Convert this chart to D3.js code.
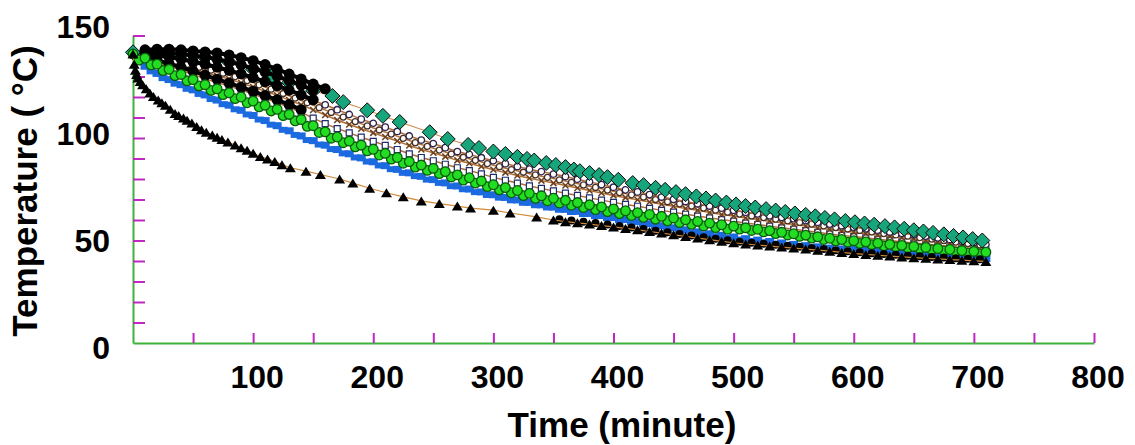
<!DOCTYPE html>
<html><head><meta charset="utf-8">
<script src="https://cdn.jsdelivr.net/npm/d3@7"></script>
<style>html,body{margin:0;padding:0;background:#fff;}svg{display:block;}</style>
</head><body>
<svg id="c" width="1135" height="445"></svg>
<script>
// ---------------- data ----------------
const gridTimes = [0,10,20,30,40,50,60,70,80,90,100,110,120,130,140,150,160,170,180,190,200,210,220,230,240,250,260,270,280,290,300,310,320,330,340,350,360,370,380,390,400,410,420,430,440,450,460,470,480,490,500,510,520,530,540,550,560,570,580,590,600,610,620,630,640,650,660,670,680,690,700,710];
const halfTimes = [5,15,25,35,45,55,65,75,85,95,105,115,125,135,145,155,165,175,185,195,205,215,225,235,245,255,265,275,285,295,305,315,325,335,345,355,365,375,385,395,405,415,425,435,445,455,465,475,485,495,505,515,525,535,545,555,565,575,585,595,605,615,625,635,645,655,665,675,685,695,705];

const greenTemps = [141,139,136,133.5,131,128.5,126,124,122,120,118,116,114,111.5,109,106,103,100.5,98.5,96.5,94.5,92.5,90.5,88.5,86.8,85.2,83.6,82,80.6,79,77.2,75.8,74.4,73,71.8,70.6,69.6,68.5,67.4,66.4,65.4,64.5,63.6,62.7,61.8,61,60.1,59.3,58.5,57.7,57,56.2,55.5,54.8,54,53.3,52.6,51.8,51.1,50.5,49.9,49.3,48.7,48.1,47.6,47.1,46.6,46.1,45.6,45.1,44.7,44.3];
const green2Temps = [138,135.7,132.9,130.4,127.9,125.4,123.2,121.2,119.2,117.2,115.2,113.2,110.9,108.4,105.7,102.7,99.9,97.7,95.7,93.7,91.7,89.7,87.7,85.8,84.2,82.6,81,79.5,78,76.3,74.7,73.3,71.9,70.6,69.4,68.3,67.2,66.1,65.1,64.1,63.1,62.2,61.3,60.4,59.6,58.7,57.9,57.1,56.3,55.5,55.6,54.9,54.2,53.4,52.7,52,51.2,50.5,49.8,49.2,48.6,48,47.4,46.9,46.4,45.9,45.4,44.9,44.4,43.9,43.5];

const blueTemps = [141,135,131.5,128.5,126,123.5,121,118.5,116,113.5,111,108.5,106,103.5,101,98.7,96.5,94.4,92.3,90.3,88.4,86.5,84.7,83,81.3,79.7,78.1,76.6,75.1,73.7,72.3,71,69.8,68.6,67.4,66.3,65.2,64.2,63.2,62.2,61.2,60.2,59.2,58.2,57.2,56.2,55.2,54.2,53.3,52.5,51.7,50.9,50.2,49.5,48.8,48.1,47.5,46.9,46.3,45.9,45.6,45.1,44.6,44.1,43.7,43.3,42.9,42.5,42.1,41.8,41.5,41.2];
const blue2Temps = [137.2,132.5,129.2,126.5,124,121.5,119,116.5,114,111.5,109,106.5,104,101.5,99,96.8,94.6,92.5,90.5,88.5,86.6,84.8,83,81.4,79.7,78.1,76.5,75,73.6,72.2,70.9,69.6,68.4,67.2,66.1,65,63.9,62.9,61.9,60.9,59.9,58.9,57.9,56.9,55.9,54.9,53.9,53,52.1,51.3,50.5,49.8,49.1,48.4,47.7,47,46.4,45.8,45.3,45,44.6,44.1,43.6,43.1,42.7,42.3,41.9,41.5,41.2,40.9,40.6];

const midUpperTemps = [141.4,140.8,139.6,138.8,137.8,136.8,135.6,134.3,132.8,131,129,126.9,124.8,122.7,120.5,118.2,116.2,113.8,111.5,109.2,107.2,105.3,103.2,101,99,97.3,95.3,93.4,92,90.4,88.9,87.5,86.1,84.8,83.6,82.4,81.2,79.9,78.6,77.3,76,74.7,73.7,72.4,71.2,70.1,69,67.9,66.8,65.8,64.8,63.8,63,62.1,61.3,60.6,59.7,58.9,58,57.2,56.5,55.7,55,54.2,53.5,52.8,52.1,51.3,50.5,49.7,49,48.1];
const midTemps = [141.2,140.1,138.3,136.8,135.3,133.7,132,130.4,128.8,126.9,124.9,122.8,120.8,118.5,116.2,113.7,111.2,108.8,106.6,104.5,102.5,100.5,98.5,96.3,94.4,92.8,90.9,89.1,87.7,86.1,84.5,83.1,81.7,80.4,79.2,78,76.8,75.6,74.4,73.2,72,70.9,69.9,68.8,67.7,66.7,65.6,64.7,63.7,62.7,61.9,61,60.2,59.4,58.6,57.8,57.1,56.2,55.4,54.7,54,53.3,52.6,51.9,51.3,50.7,50,49.3,48.7,48,47.4,46.7];
const midLowerTemps = [141.1,139.6,137.1,135.1,133.1,131,128.9,127.1,125.3,123.4,121.4,119.3,117.3,114.9,112.5,109.7,107,104.6,102.5,100.4,98.4,96.4,94.4,92.3,90.5,88.9,87.2,85.5,84.1,82.5,80.8,79.4,78,76.6,75.4,74.2,73.1,72,70.8,69.7,68.6,67.6,66.7,65.7,64.7,63.8,62.8,61.9,61,60.2,59.4,58.5,57.8,57,56.2,55.5,54.8,54,53.2,52.5,51.9,51.3,50.6,50,49.4,48.8,48.3,47.7,47.1,46.5,46,45.5];
const midHalfTemps = [140.9,139.7,138.4,137.2,135.9,134.5,133.1,131.6,129.9,128,125.9,123.8,121.7,119.5,117.2,114.8,112.5,110.2,108,105.9,103.9,101.9,99.8,97.7,95.9,94.1,92.2,90.6,89.1,87.5,86,84.6,83.3,82,80.8,79.6,78.4,77.1,75.9,74.6,73.4,72.3,71.2,70,68.9,67.9,66.8,65.8,64.8,63.8,62.9,62,61.2,60.4,59.6,58.8,58,57.1,56.3,55.6,54.9,54.2,53.4,52.7,52.1,51.4,50.7,50,49.2,48.5,47.8];

const blackTimes = [10,20,30,40,50,60,70,80,90,100,110,120,130,140,150,160];
const blackTopTemps = [143,143.3,143.3,143,142.5,142,141.5,140.5,139.2,137.7,135.8,133.6,131.2,128.8,126.3,124];
const blackUpperTemps = [142,142,141.6,141,140.3,139.5,138.4,137.2,135.7,134,132.2,130.2,128,125.8,123.4];
const blackMidTemps = [141,140.3,139.5,138.5,137.3,136,134.6,133,131.3,129.5,127.5,125.5,123.3,121,118.6];
const blackLowTemps = [139.8,138,136.3,134.5,132.6,130.6,128.7,126.8,124.8,122.8,120.7,118.6,116.3,113.8];

const lateBlackTimes = [355,365,375,385,395,405,415,425,435,445,455,465,475,485,495,505,515,525,535,545,555,565,575,585,595,605,615,625,635,645,655,665,675,685,695,705];
const lateBlackTemps = [60.4,59.7,59.1,58.5,57.8,57.1,56.4,55.6,54.8,54,53.2,52.4,51.6,50.8,50.1,49.4,48.9,48.4,47.9,47.4,46.9,46.4,45.9,45.3,44.7,44.3,43.8,43.4,43,42.6,42.3,42,41.7,41.4,41.1,40.8];

const diamondTimes = [0,20,40,60,80,100,115,130,150,166,175,195,208,222,247,262,279,288,300,310,320,328,334,344,352,360,367,372,380,388,395,404,416,425,435,443,452,460,469,477,485,494,502,510,518,527,535,543,551,560,568,576,584,593,601,609,617,626,634,642,650,658,666,675,683,691,699,707];
const diamondTemps = [141.8,141,140.5,139.3,137,133.5,130,127,123,120.5,117.5,113.5,110.8,107.8,102.8,99.5,96.6,95.1,93.4,92.2,90.8,89.8,89,87.8,86.8,85.8,84.6,83.8,82.9,81.9,80.9,79.6,78,77,75.7,74.7,73.6,72.6,71.5,70.5,69.5,68.5,67.6,66.8,66.1,65.3,64.6,63.9,63.2,62.5,61.8,61,60.3,59.5,58.9,58.3,57.7,57,56.4,55.7,55,54.4,53.7,53,52.2,51.5,50.7,50];

const triTimes = [0,1,2,3,4,6,8,11,14,17,21,24,27,31,35,38,42,45,49,53,57,61,66,70,74,79,85,90,95,100,106,112,118,124,131,144,156,172,183,197,211,225,240,255,270,281,300,314,336,350,360,370,380,390,400,410,420,430,440,450,460,470,480,490,500,510,520,530,540,550,560,570,580,590,600,610,620,630,640,650,660,670,680,690,700,710];
const triTemps = [141,136,133,131,129.3,127.6,126,124,122,120.3,118.5,117.2,116,114,112,111,109.8,108.7,107.3,105.6,104,102.8,101.5,100.4,99.3,98,96.6,95.3,94,92.6,91,89.8,88.5,87,85.5,83.8,82.2,80,78,75.5,73.3,71.3,69.3,68,66.8,65.8,64.8,63.4,61.5,60,59.2,58.6,58,57.3,56.6,55.9,55.2,54.4,53.6,52.8,52,51.2,50.4,49.6,48.9,48.3,47.8,47.3,46.8,46.3,45.8,45.3,44.8,44.2,43.6,43.2,42.8,42.4,42,41.6,41.3,41,40.7,40.4,40.1,39.8];

const xTickValues = [50,100,150,200,250,300,350,400,450,500,550,600,650,700,750,800];
const xTickLabels = [100,200,300,400,500,600,700,800];
const yTickValues = [10,20,30,40,50,60,70,80,90,100,110,120,130,140,150];
const yTickLabels = [0,50,100,150];

// ---------------- chart ----------------
const svg = d3.select('#c');
svg.append('rect').attr('width',1135).attr('height',445).attr('fill','#fff');
const x = d3.scaleLinear().domain([0,800]).range([133,1094]);
const y = d3.scaleLinear().domain([0,150]).range([343,35.5]);
const yLab = d3.scaleLinear().domain([0,150]).range([347,26.5]);

const AXIS = '#3cb43c', TICK = '#c026c0';
const FONT = '"Liberation Sans", Arial, Helvetica, sans-serif';

const gx = svg.append('g').attr('transform','translate(0,343)')
  .call(d3.axisTop(x).tickValues(xTickValues).tickSize(10).tickSizeOuter(0).tickFormat(''));
gx.select('.domain').attr('stroke',AXIS).attr('stroke-width',2);
gx.selectAll('.tick line').attr('stroke',TICK).attr('stroke-width',2);

const gy = svg.append('g').attr('transform','translate(133,0)')
  .call(d3.axisRight(y).tickValues(yTickValues).tickSize(12).tickSizeOuter(0).tickFormat(''));
gy.select('.domain').attr('stroke',AXIS).attr('stroke-width',2);
gy.selectAll('.tick line').attr('stroke',TICK).attr('stroke-width',2);

svg.append('g').selectAll('text').data(xTickLabels).join('text')
  .attr('x',d=>x(d)+4).attr('y',388).attr('text-anchor','middle')
  .attr('font-family',FONT).attr('font-weight','bold').attr('font-size',32).attr('fill','#000')
  .text(d=>d);
svg.append('g').selectAll('text').data(yTickLabels).join('text')
  .attr('x',110).attr('y',d=>yLab(d)).attr('dy','0.36em').attr('text-anchor','end')
  .attr('font-family',FONT).attr('font-weight','bold').attr('font-size',32).attr('fill','#000')
  .text(d=>d);

svg.append('text').attr('x',622).attr('y',437).attr('text-anchor','middle')
  .attr('font-family',FONT).attr('font-weight','bold').attr('font-size',35).attr('fill','#000')
  .text('Time (minute)');
svg.append('text').attr('transform','translate(37,191) rotate(-90)').attr('text-anchor','middle')
  .attr('font-family',FONT).attr('font-weight','bold').attr('font-size',35).attr('fill','#000')
  .text('Temperature ( °C)');

// marker shapes
const shapes = {
  circle: r => (cx,cy) => `M${cx-r},${cy}a${r},${r} 0 1,0 ${2*r},0a${r},${r} 0 1,0 ${-2*r},0Z`,
  square: (w,h) => (cx,cy) => `M${cx-w/2},${cy-h/2}h${w}v${h}h${-w}Z`,
  diamond: s => (cx,cy) => `M${cx},${cy-s}L${cx+s},${cy}L${cx},${cy+s}L${cx-s},${cy}Z`,
  triangle: (w,h) => (cx,cy) => `M${cx},${cy-h/2}L${cx+w/2},${cy+h/2}L${cx-w/2},${cy+h/2}Z`,
  cross: s => (cx,cy) => `M${cx-s},${cy-s}L${cx+s},${cy+s}M${cx-s},${cy+s}L${cx+s},${cy-s}`
};

function drawSeries(times, temps, o) {
  const pts = temps.map((v,i)=>[x(times[i]), y(v)]);
  const g = svg.append('g');
  if (o.line) g.append('path').attr('d', d3.line()(pts)).attr('fill','none')
    .attr('stroke',o.line).attr('stroke-width',o.lw||1);
  g.selectAll('path.m').data(pts).join('path').attr('class','m')
    .attr('d', d=>o.shape(d[0],d[1]))
    .attr('fill', o.fill).attr('stroke', o.stroke||'none').attr('stroke-width', o.sw||1);
}

const BROWN = '#b06e34';
drawSeries(gridTimes, midLowerTemps, {line:BROWN, lw:1.5, shape:shapes.square(6,6), fill:'#fff', stroke:'#1d2d6e', sw:1.2});
drawSeries(gridTimes, midTemps, {line:BROWN, lw:1.5, shape:shapes.cross(3), fill:'none', stroke:'#6a4020', sw:1.5});
drawSeries(halfTimes, midHalfTemps, {line:BROWN, lw:1.5, shape:shapes.circle(3), fill:'#fff', stroke:'#4a3020', sw:1.3});
drawSeries(gridTimes, midUpperTemps, {line:BROWN, lw:1.5, shape:shapes.circle(3.2), fill:'#fff', stroke:'#2d2350', sw:1.3});
drawSeries(diamondTimes, diamondTemps, {line:'#c8843c', lw:1, shape:shapes.diamond(7.5), fill:'#17a57c', stroke:'#0a0a0a', sw:1});
drawSeries(blackTimes, blackLowTemps, {line:'#000', lw:4, shape:shapes.circle(5.5), fill:'#000'});
drawSeries(blackTimes, blackMidTemps, {line:'#000', lw:4, shape:shapes.circle(5.5), fill:'#000'});
drawSeries(blackTimes, blackUpperTemps, {line:'#000', lw:4, shape:shapes.circle(5.5), fill:'#000'});
drawSeries(blackTimes, blackTopTemps, {line:'#000', lw:4, shape:shapes.circle(5.5), fill:'#000'});
drawSeries(halfTimes, blue2Temps, {shape:shapes.square(9,6), fill:'#1c6ae0'});
drawSeries(gridTimes, blueTemps, {shape:shapes.square(9,7), fill:'#1c6ae0'});
drawSeries(halfTimes, green2Temps, {shape:shapes.circle(4.8), fill:'#22dd22', stroke:'#0b5c0b', sw:1.3});
drawSeries(gridTimes, greenTemps, {shape:shapes.circle(4.8), fill:'#22dd22', stroke:'#0b5c0b', sw:1.3});
drawSeries(lateBlackTimes, lateBlackTemps, {line:'#d08a3a', lw:1, shape:shapes.circle(4), fill:'#000'});
drawSeries(triTimes, triTemps, {line:'#d08a3a', lw:1.2, shape:shapes.triangle(11,9), fill:'#000'});
</script>
</body></html>
